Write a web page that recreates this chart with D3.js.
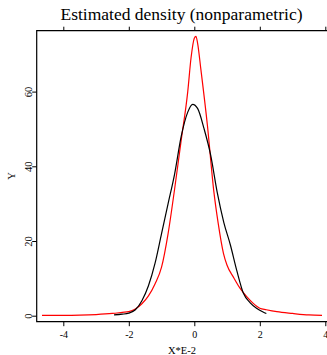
<!DOCTYPE html>
<html>
<head>
<meta charset="utf-8">
<script src="https://cdn.jsdelivr.net/npm/d3@7"></script>
<style>
  body { margin: 0; background: #fff; }
  text { font-family: "Liberation Serif", "Times New Roman", serif; }
</style>
</head>
<body>
<script>
'use strict';

var width  = 327;
var height = 355;

// red: smooth (parametric-ish) estimate
var redX = [-4.65, -4.0, -3.5, -3.0, -2.5, -2.2, -2.0, -1.8, -1.6, -1.4, -1.2, -1.0, -0.8, -0.6, -0.4, -0.2, -0.1, 0.0, 0.05, 0.1, 0.2, 0.4, 0.6, 0.73, 0.89, 1.0, 1.19, 1.4, 1.6, 1.8, 2.0, 2.2, 2.52, 3.0, 3.5, 3.9];
var redY = [0.1, 0.1, 0.15, 0.3, 0.6, 0.9, 1.1, 1.8, 3.2, 5.3, 8.5, 13, 22, 34, 47, 60, 69, 74.3, 74.8, 73, 66, 51, 33, 24.7, 16.7, 13.5, 10.4, 7.3, 5.1, 3.3, 2.0, 1.6, 1.07, 0.6, 0.2, 0.1];

// black: nonparametric estimate
var blackX = [-2.45, -2.2, -2.0, -1.8, -1.6, -1.4, -1.2, -1.0, -0.8, -0.6, -0.4, -0.2, -0.05, 0.1, 0.3, 0.5, 0.7, 0.9, 1.1, 1.3, 1.5, 1.7, 1.9, 2.1, 2.2];
var blackY = [0.2, 0.4, 0.7, 1.6, 4, 8, 14, 22, 30, 38, 48, 54.5, 56.6, 55.5, 50, 43, 33, 25, 19, 12, 6.0, 3.5, 2.0, 1.0, 0.6];

var xTicks = [-4, -2, 0, 2, 4];
var yTicks = [0, 20, 40, 60];

var svg = d3.select('body').append('svg')
    .attr('width', width)
    .attr('height', height);

var x = d3.scaleLinear().domain([-4, 4]).range([63.3, 325.3]);
var y = d3.scaleLinear().domain([0, 60]).range([315.7, 91.6]);

var plotLeft = 36.7, plotTop = 30.7, plotBottom = 321.7;

svg.append('text')
  .attr('x', 181.5)
  .attr('y', 20)
  .attr('text-anchor', 'middle')
  .style('font-size', '17.5px')
  .text('Estimated density (nonparametric)');

// bottom axis
var xb = svg.append('g')
  .attr('transform', 'translate(0,' + plotBottom + ')')
  .call(d3.axisBottom(x).tickValues(xTicks).tickSize(4.5).tickPadding(5).tickFormat(function(d) { return String(d); }));
xb.select('.domain').remove();
xb.selectAll('text').style('font-size', '10px').style('font-family', '"Liberation Serif", serif');

// top axis (ticks only, no labels)
var xt = svg.append('g')
  .attr('transform', 'translate(0,' + plotTop + ')')
  .call(d3.axisTop(x).tickValues(xTicks).tickSize(4).tickFormat(''));
xt.select('.domain').remove();

// left axis
var yl = svg.append('g')
  .attr('transform', 'translate(' + plotLeft + ',0)')
  .call(d3.axisLeft(y).tickValues(yTicks).tickSize(4.5).tickFormat(function(d) { return String(d); }));
yl.select('.domain').remove();
yl.selectAll('.tick text')
  .style('font-size', '10.5px')
  .style('font-family', '"Liberation Serif", serif')
  .attr('text-anchor', 'middle')
  .attr('x', 0).attr('y', 0).attr('dy', 0)
  .attr('transform', 'translate(-4.7,0) rotate(-90)');

// frame lines
svg.append('path')
  .attr('d', 'M' + width + ',' + plotTop + 'H' + plotLeft + 'V' + plotBottom + 'H' + width)
  .attr('fill', 'none')
  .attr('stroke', '#000')
  .attr('stroke-width', 1.2);

svg.append('text')
  .attr('x', 182)
  .attr('y', 353.5)
  .attr('text-anchor', 'middle')
  .style('font-size', '10.5px')
  .text('X*E-2');

svg.append('text')
  .attr('transform', 'translate(15,176) rotate(-90)')
  .attr('text-anchor', 'middle')
  .style('font-size', '10.5px')
  .text('Y');

var line = d3.line()
  .x(function(d) { return x(d[0]); })
  .y(function(d) { return y(d[1]); })
  .curve(d3.curveMonotoneX);

svg.append('path')
  .datum(d3.zip(redX, redY))
  .attr('d', line)
  .attr('fill', 'none')
  .attr('stroke', '#ff0000')
  .attr('stroke-width', 1.2);

svg.append('path')
  .datum(d3.zip(blackX, blackY))
  .attr('d', line)
  .attr('fill', 'none')
  .attr('stroke', '#000')
  .attr('stroke-width', 1.2);
</script>
</body>
</html>
